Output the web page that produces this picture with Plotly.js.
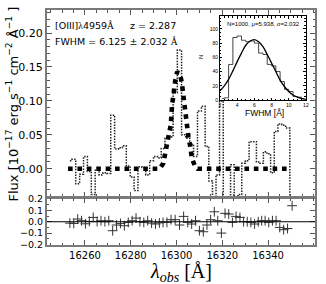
<!DOCTYPE html>
<html><head><meta charset="utf-8">
<script src="https://cdn.plot.ly/plotly-3.0.1.min.js"></script>
<style>html,body{margin:0;padding:0;background:#fff}</style>
</head><body><div id="chart" style="width:326px;height:284px"></div>
<script>
// observed spectrum (Angstrom, 1e-17 flux units)
const wavelength = [16253.4,16255.1,16256.8,16258.5,16260.2,16261.9,16263.6,16265.3,16267.0,16268.7,
  16270.4,16272.1,16273.8,16275.5,16277.2,16278.9,16280.6,16282.3,16284.0,16285.7,
  16287.4,16289.1,16290.8,16292.5,16294.1,16295.8,16297.6,16299.4,16301.3,16303.1,
  16304.9,16306.6,16308.3,16310.0,16311.7,16313.3,16314.9,16316.5,16318.0,16319.6,
  16321.2,16322.8,16324.4,16326.0,16327.7,16329.3,16330.9,16332.5,16334.1,16335.7,
  16337.2,16338.7,16340.3,16341.9,16343.5,16345.1,16346.8,16348.5,16350.5];
const flux = [0.012,0.014,-0.022,-0.008,0.018,-0.004,-0.038,-0.002,-0.009,-0.006,
  -0.007,0.079,0.029,0.031,0.034,0.004,-0.012,-0.032,0.003,0.002,
  -0.009,0.012,0.018,0.016,0.030,0.045,0.047,0.112,0.175,0.050,
  0.045,0.036,0.018,0.085,0.092,0.033,-0.018,-0.088,-0.009,0.100,
  -0.074,-0.068,0.006,-0.047,-0.038,0.008,0.012,0.040,0.040,0.010,
  0.008,0.025,0.022,-0.006,0.055,0.066,0.064,0.060,-0.141];
const residual = [-0.012,-0.015,0.024,0.009,-0.018,0.003,0.038,0.002,0.009,0.0,
  0.009,-0.079,-0.029,-0.015,-0.035,-0.006,0.009,0.032,0.0,-0.006,
  0.009,-0.012,-0.020,-0.010,-0.006,-0.006,0.018,0.018,-0.029,0.047,
  -0.006,-0.020,0.009,-0.079,-0.088,-0.029,0.018,0.088,0.009,-0.100,
  0.074,0.068,-0.006,0.047,0.038,0.0,0.0,-0.006,-0.020,0.0,
  0.009,0.009,-0.006,0.009,0.009,-0.050,-0.070,-0.060,0.141];
// fitted line model
const modelWave = [16252.6,16292.6,16294.2,16295.6,16296.4,16297.5,16298.0,16298.6,16299.5,16300.3,
  16301.6,16302.3,16303.0,16303.7,16304.4,16305.2,16306.0,16306.7,16308.0,16309.2,16349.6];
const modelFlux = [0,0,0.008,0.030,0.047,0.065,0.092,0.111,0.131,0.143,
  0.138,0.127,0.104,0.084,0.062,0.047,0.033,0.016,0.004,0,0];
// inset: FWHM distribution
const histCenters = [2.25,2.75,3.25,3.75,4.25,4.75,5.25,5.75,6.25,6.75,7.25,7.75,8.25,8.75,9.25,9.75,10.25,10.75,11.25,11.75];
const histCounts = [2,3,50,88,90,84,82,83,80,66,64,50,48,40,26,15,12,5,4,2];
const fitX = [2.0,2.5,3.0,3.5,4.0,4.5,5.0,5.5,6.0,6.5,7.0,7.5,8.0,8.5,9.0,9.5,10.0,10.5,11.0,11.5,12.0];
const fitN = [13,20,29,41,54,66,77,83,85,82,75,64,52,40,28,19,12,7,4,2,1];
const xTicks = [16260,16280,16300,16320,16340];

const frame = '#7a7a7a';
const tickFont = {family:'DejaVu Sans', size:11, color:'#000'};

const traces = [
  {x:wavelength, y:flux, xaxis:'x', yaxis:'y', type:'scatter', mode:'lines',
   line:{shape:'hvh', color:'#222', width:1.5, dash:'1.5px,1.3px'}, hoverinfo:'skip'},
  {x:modelWave, y:modelFlux, xaxis:'x', yaxis:'y', type:'scatter', mode:'lines',
   line:{color:'#000', width:4.6, dash:'4.6px,4.8px'}, hoverinfo:'skip'},
  {x:wavelength, y:residual, xaxis:'x2', yaxis:'y2', type:'scatter', mode:'markers',
   marker:{symbol:'cross-thin-open', size:7, color:'#333', line:{color:'#333', width:1}}, hoverinfo:'skip'},
  {x:histCenters, y:histCounts, xaxis:'x3', yaxis:'y3', type:'scatter', mode:'lines',
   line:{shape:'hvh', color:'#444', width:1}, hoverinfo:'skip'},
  {x:fitX, y:fitN, xaxis:'x3', yaxis:'y3', type:'scatter', mode:'lines',
   line:{shape:'spline', color:'#000', width:1.3}, hoverinfo:'skip'}
];

function baseAxis(extra){
  return Object.assign({showgrid:false, zeroline:false, showline:true, linecolor:frame, linewidth:2,
    mirror:'ticks', ticks:'inside', ticklen:5, tickwidth:1, tickcolor:'#555', tickfont:tickFont}, extra);
}

const layout = {
  width:326, height:284, margin:{l:47, r:11, t:10, b:39},
  paper_bgcolor:'#fff', plot_bgcolor:'#fff', showlegend:false,
  xaxis: baseAxis({domain:[0,1], anchor:'y', range:[16243.4,16360.5], tickvals:xTicks, showticklabels:false,
    minor:{ticks:'inside', ticklen:2.5, dtick:5, tick0:16260, tickcolor:'#555'}}),
  yaxis: baseAxis({domain:[0.206,1], anchor:'x', range:[-0.041,0.234], tick0:0, dtick:0.05, tickformat:'.2f',
    minor:{ticks:'inside', ticklen:2.5, dtick:0.01, tickcolor:'#555'}}),
  xaxis2: baseAxis({domain:[0,1], anchor:'y2', range:[16243.4,16360.5], tickvals:xTicks, tickformat:'d',
    ticktext:xTicks.map(String),
    tickfont:{family:'DejaVu Sans', size:10, color:'#000'},
    minor:{ticks:'inside', ticklen:2.5, dtick:5, tick0:16260, tickcolor:'#555'}}),
  yaxis2: baseAxis({domain:[0,0.198], anchor:'x2', range:[-0.205,0.205], tick0:0, dtick:0.1, tickformat:'.1f',
    tickfont:{family:'DejaVu Sans', size:9.5, color:'#000'},
    minor:{ticks:'inside', ticklen:2, dtick:0.05, tickcolor:'#555'}}),
  xaxis3: baseAxis({domain:[0.6455,0.966], anchor:'y3', range:[2,12], dtick:2, tick0:2, linecolor:'#000', linewidth:1,
    ticklen:2.5, tickcolor:'#000', tickfont:{family:'Liberation Sans', size:5, color:'#000'},
    minor:{ticks:'inside', ticklen:1.5, dtick:0.5, tickcolor:'#000'}}),
  yaxis3: baseAxis({domain:[0.617,0.974], anchor:'x3', range:[0,118], dtick:20, tick0:0, linecolor:'#000', linewidth:1,
    ticklen:2.5, tickcolor:'#000', tickfont:{family:'Liberation Sans', size:5, color:'#000'},
    minor:{ticks:'inside', ticklen:1.5, dtick:5, tickcolor:'#000'}}),
  shapes:[
    {type:'line', xref:'x2 domain', yref:'y2', x0:0, x1:1, y0:0, y1:0, line:{color:'#000', width:1.2}}
  ],
  annotations:[
    {xref:'paper', yref:'paper', x:0.0224, y:0.932, xanchor:'left', yanchor:'middle', showarrow:false,
     text:'[OIII]<span style="font-family:Liberation Serif">λ</span>4959<span style="font-family:Liberation Serif">Å</span>',
     font:{family:'DejaVu Sans', size:9.5, color:'#000'}},
    {xref:'paper', yref:'paper', x:0.302, y:0.932, xanchor:'left', yanchor:'middle', showarrow:false,
     text:'z = 2.287', font:{family:'DejaVu Sans', size:9.5, color:'#000'}},
    {xref:'paper', yref:'paper', x:0.0224, y:0.868, xanchor:'left', yanchor:'middle', showarrow:false,
     text:'FWHM = 6.125 ± 2.032 <span style="font-family:Liberation Serif">Å</span>',
     font:{family:'DejaVu Sans', size:9.5, color:'#000'}},
    {xref:'paper', yref:'paper', x:-0.1306, y:0.602, xanchor:'center', yanchor:'middle', showarrow:false, textangle:-90,
     text:'Flux [10<sup>−17</sup> erg s<sup>−1</sup> cm<sup>−2</sup> Å<sup>−1</sup> ]',
     font:{family:'DejaVu Sans', size:13, color:'#000'}},
    {xref:'paper', yref:'paper', x:0.5, y:-0.115, xanchor:'center', yanchor:'middle', showarrow:false,
     text:'<i>λ</i><sub><i>obs</i></sub> [Å]', font:{family:'Liberation Serif', size:20, color:'#000'}},
    {xref:'paper', yref:'paper', x:0.806, y:0.94, xanchor:'center', yanchor:'middle', showarrow:false,
     text:'N=1000, μ=5.938, σ=2.032', font:{family:'Liberation Sans', size:6, color:'#000'}},
    {xref:'paper', yref:'paper', x:0.81, y:0.56, xanchor:'center', yanchor:'middle', showarrow:false,
     text:'FWHM [Å]', font:{family:'Liberation Sans', size:8.5, color:'#000'}},
    {xref:'paper', yref:'paper', x:0.575, y:0.80, xanchor:'center', yanchor:'middle', showarrow:false, textangle:-90,
     text:'N', font:{family:'Liberation Sans', size:6, color:'#000'}}
  ]
};

Plotly.newPlot('chart', traces, layout, {staticPlot:true, displayModeBar:false});
</script>
</body></html>
